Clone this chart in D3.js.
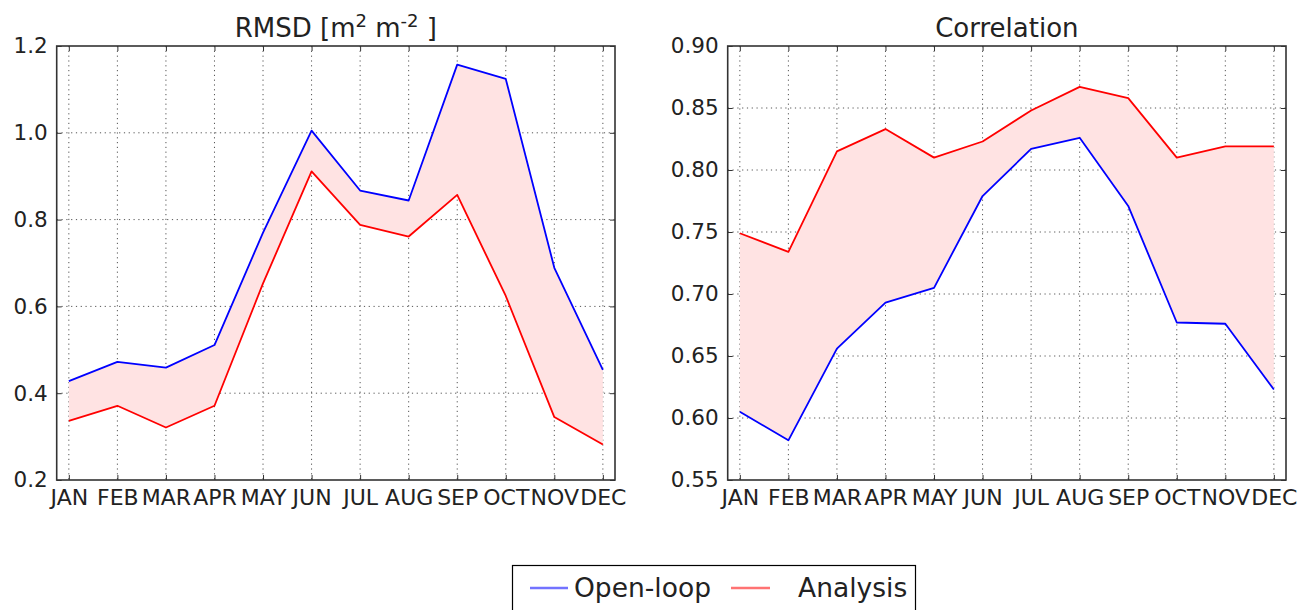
<!DOCTYPE html>
<html>
<head>
<meta charset="utf-8">
<script src="https://cdn.jsdelivr.net/npm/d3@7"></script>
<style>
  html, body { margin: 0; padding: 0; background: #fff; }
  svg { display: block; font-family: "DejaVu Sans", sans-serif; }
</style>
</head>
<body>
<svg id="chart" width="1308" height="610"></svg>
<script>
const months = ["JAN","FEB","MAR","APR","MAY","JUN","JUL","AUG","SEP","OCT","NOV","DEC"];

const rmsdOpenLoop = [0.428, 0.472, 0.459, 0.511, 0.770, 1.005, 0.867, 0.844, 1.157, 1.124, 0.689, 0.454];
const rmsdAnalysis = [0.336, 0.371, 0.321, 0.371, 0.653, 0.911, 0.788, 0.761, 0.857, 0.624, 0.345, 0.282];

const corrOpenLoop = [0.605, 0.582, 0.656, 0.693, 0.705, 0.779, 0.817, 0.826, 0.771, 0.677, 0.676, 0.623];
const corrAnalysis = [0.749, 0.734, 0.815, 0.833, 0.810, 0.823, 0.848, 0.867, 0.858, 0.810, 0.819, 0.819];

const rmsdTicks = [0.2, 0.4, 0.6, 0.8, 1.0, 1.2];
const corrTicks = [0.55, 0.60, 0.65, 0.70, 0.75, 0.80, 0.85, 0.90];

const seriesNames = ["Open-loop", "Analysis"];
const seriesColors = ["#0000ff", "#ff0000"];
const fillColor = "#ffe3e3";
const textColor = "#222";

const svg = d3.select("#chart");

function panel(opts) {
  const { left, right, top, bottom, yDomain, yTicks, yFmt, open, ana, title } = opts;
  const x = d3.scaleLinear().domain([-0.25, 11.25]).range([left, right]);
  const y = d3.scaleLinear().domain(yDomain).range([bottom, top]);
  const g = svg.append("g");

  // grid
  g.append("g").selectAll("line.gx").data(months.map((m, i) => i)).join("line")
    .attr("x1", d => x(d)).attr("x2", d => x(d)).attr("y1", top).attr("y2", bottom)
    .attr("stroke", "#555").attr("stroke-width", 1).attr("stroke-dasharray", "1.2,3.6");
  g.append("g").selectAll("line.gy").data(yTicks.slice(1, -1)).join("line")
    .attr("y1", d => y(d)).attr("y2", d => y(d)).attr("x1", left).attr("x2", right)
    .attr("stroke", "#555").attr("stroke-width", 1).attr("stroke-dasharray", "1.2,3.6");

  // fill between
  const area = d3.area().x((d, i) => x(i)).y0((d, i) => y(open[i])).y1((d, i) => y(ana[i]));
  g.append("path").datum(open).attr("d", area).attr("fill", fillColor);

  const line = d3.line().x((d, i) => x(i)).y(d => y(d));
  g.append("path").datum(open).attr("d", line).attr("fill", "none")
    .attr("stroke", seriesColors[0]).attr("stroke-width", 1.8).attr("stroke-linejoin", "round");
  g.append("path").datum(ana).attr("d", line).attr("fill", "none")
    .attr("stroke", seriesColors[1]).attr("stroke-width", 1.8).attr("stroke-linejoin", "round");

  // axes (ticks inside)
  const yAxisL = d3.axisLeft(y).tickValues(yTicks).tickFormat(yFmt).tickSizeInner(-5).tickSizeOuter(0).tickPadding(9);
  const yAxisR = d3.axisRight(y).tickValues(yTicks).tickFormat("").tickSizeInner(-5).tickSizeOuter(0);
  const xAxisB = d3.axisBottom(x).tickValues(months.map((m, i) => i)).tickFormat(i => months[i]).tickSizeInner(-5).tickSizeOuter(0).tickPadding(9);
  const xAxisT = d3.axisTop(x).tickValues(months.map((m, i) => i)).tickFormat("").tickSizeInner(-5).tickSizeOuter(0);

  const ay = g.append("g").attr("transform", `translate(${left},0)`).call(yAxisL);
  const ay2 = g.append("g").attr("transform", `translate(${right},0)`).call(yAxisR);
  const ax = g.append("g").attr("transform", `translate(0,${bottom})`).call(xAxisB);
  const ax2 = g.append("g").attr("transform", `translate(0,${top})`).call(xAxisT);
  [ay, ay2, ax, ax2].forEach(a => {
    a.select(".domain").remove();
    a.selectAll(".tick line").attr("stroke", "#333").attr("stroke-width", 1);
  });
  ay.selectAll("text").attr("font-size", 21.5).attr("fill", textColor).attr("font-family", "DejaVu Sans");
  ax.selectAll("text").attr("font-size", 22).attr("fill", textColor).attr("font-family", "DejaVu Sans");

  // frame
  g.append("rect").attr("x", left).attr("y", top).attr("width", right - left).attr("height", bottom - top)
    .attr("fill", "none").attr("stroke", "#333").attr("stroke-width", 1.6);

  // title
  const t = g.append("text").attr("x", (left + right) / 2).attr("y", 37)
    .attr("text-anchor", "middle").attr("font-size", 26).attr("fill", textColor);
  title(t);
}

panel({
  left: 56.7, right: 615, top: 46, bottom: 480,
  yDomain: [0.2, 1.2], yTicks: rmsdTicks, yFmt: d3.format(".1f"),
  open: rmsdOpenLoop, ana: rmsdAnalysis,
  title: t => {
    t.append("tspan").text("RMSD [m");
    t.append("tspan").attr("dy", -10).attr("font-size", 18).text("2");
    t.append("tspan").attr("dy", 10).text(" m");
    t.append("tspan").attr("dy", -10).attr("font-size", 18).text("-2");
    t.append("tspan").attr("dy", 10).text(" ]");
  }
});

panel({
  left: 727.7, right: 1286, top: 46, bottom: 480,
  yDomain: [0.55, 0.90], yTicks: corrTicks, yFmt: d3.format(".2f"),
  open: corrOpenLoop, ana: corrAnalysis,
  title: t => t.text("Correlation")
});

// legend
const lg = svg.append("g");
lg.append("rect").attr("x", 512.5).attr("y", 565.5).attr("width", 403).attr("height", 60)
  .attr("fill", "#fff").attr("stroke", "#000").attr("stroke-width", 1.2);
const legendItems = [
  { name: seriesNames[0], color: seriesColors[0], x1: 530, x2: 568, tx: 574 },
  { name: seriesNames[1], color: seriesColors[1], x1: 731, x2: 770, tx: 798 }
];
legendItems.forEach(d => {
  lg.append("line").attr("x1", d.x1).attr("x2", d.x2).attr("y1", 588).attr("y2", 588)
    .attr("stroke", d.color).attr("stroke-opacity", 0.55).attr("stroke-width", 2.5);
  lg.append("text").attr("x", d.tx).attr("y", 597).attr("font-size", 26.5).attr("fill", textColor).text(d.name);
});
</script>
</body>
</html>
